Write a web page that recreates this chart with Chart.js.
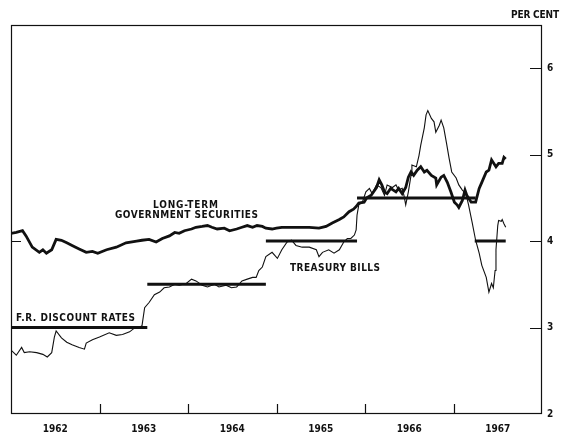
<!DOCTYPE html>
<html>
<head>
<meta charset="utf-8">
<script src="https://cdn.jsdelivr.net/npm/chart.js@4.4.1/dist/chart.umd.min.js"></script>
<style>
  html, body { margin: 0; padding: 0; background: #fff; }
  canvas { display: block; }
</style>
</head>
<body>
<canvas id="rates" width="563" height="436"></canvas>
<script>
/* Interest rates 1962-1967: long-term governments, treasury bills, F.R. discount rate. */
const yearLabels = ["1962", "1963", "1964", "1965", "1966", "1967"];
const yearMids = [1962.5, 1963.5, 1964.5, 1965.5, 1966.5, 1967.5];
const yearBounds = [1963, 1964, 1965, 1966, 1967];
const rateTicks = [2, 3, 4, 5, 6];
const leftRateTicks = [4];

const ltYears = [
  1962.00, 1962.06, 1962.13, 1962.17, 1962.24, 1962.32, 1962.36, 1962.40, 1962.46, 1962.51,
  1962.57, 1962.63, 1962.69, 1962.77, 1962.85, 1962.92, 1962.98, 1963.08, 1963.19, 1963.30,
  1963.42, 1963.48, 1963.56, 1963.64, 1963.71, 1963.79, 1963.85, 1963.90, 1963.96, 1964.04,
  1964.09, 1964.16, 1964.22, 1964.27, 1964.33, 1964.41, 1964.47, 1964.55, 1964.61, 1964.67,
  1964.73, 1964.78, 1964.84, 1964.88, 1964.95, 1965.00, 1965.06, 1965.14, 1965.26, 1965.37,
  1965.48, 1965.56, 1965.63, 1965.71, 1965.76, 1965.82, 1965.87, 1965.90, 1965.93, 1965.99,
  1966.02, 1966.07, 1966.13, 1966.16, 1966.19, 1966.22, 1966.25, 1966.29, 1966.35, 1966.38,
  1966.42, 1966.46, 1966.49, 1966.52, 1966.55, 1966.59, 1966.63, 1966.67, 1966.70, 1966.75,
  1966.80, 1966.81, 1966.86, 1966.89, 1966.93, 1966.97, 1967.01, 1967.04, 1967.06, 1967.10,
  1967.13, 1967.15, 1967.20, 1967.25, 1967.29, 1967.32, 1967.37, 1967.40, 1967.43, 1967.48,
  1967.51, 1967.55, 1967.57, 1967.59
];
const ltValues = [
  4.09, 4.10, 4.12, 4.06, 3.93, 3.87, 3.90, 3.86, 3.90, 4.02,
  4.01, 3.98, 3.95, 3.91, 3.87, 3.88, 3.86, 3.90, 3.93, 3.98,
  4.00, 4.01, 4.02, 3.99, 4.03, 4.06, 4.10, 4.09, 4.12, 4.14,
  4.16, 4.17, 4.18, 4.16, 4.14, 4.15, 4.12, 4.14, 4.16, 4.18,
  4.16, 4.18, 4.17, 4.15, 4.14, 4.15, 4.16, 4.16, 4.16, 4.16,
  4.15, 4.17, 4.21, 4.25, 4.28, 4.34, 4.37, 4.40, 4.44, 4.45,
  4.50, 4.53, 4.62, 4.71, 4.65, 4.57, 4.55, 4.61, 4.57, 4.61,
  4.55, 4.62, 4.74, 4.80, 4.76, 4.82, 4.86, 4.80, 4.82, 4.76,
  4.73, 4.65, 4.74, 4.76, 4.68, 4.57, 4.45, 4.42, 4.39, 4.47,
  4.59, 4.53, 4.45, 4.45, 4.61, 4.68, 4.80, 4.82, 4.94, 4.86,
  4.90, 4.90, 4.97, 4.95
];

const tbYears = [
  1962.00, 1962.06, 1962.12, 1962.15, 1962.21, 1962.29, 1962.36, 1962.41, 1962.46, 1962.49,
  1962.51, 1962.57, 1962.63, 1962.69, 1962.77, 1962.83, 1962.85, 1962.92, 1963.00, 1963.11,
  1963.19, 1963.26, 1963.34, 1963.39, 1963.45, 1963.48, 1963.51, 1963.56, 1963.62, 1963.68,
  1963.73, 1963.79, 1963.85, 1963.90, 1963.98, 1964.04, 1964.09, 1964.16, 1964.22, 1964.30,
  1964.35, 1964.43, 1964.49, 1964.55, 1964.61, 1964.67, 1964.73, 1964.77, 1964.80, 1964.84,
  1964.88, 1964.95, 1965.01, 1965.06, 1965.12, 1965.17, 1965.22, 1965.29, 1965.37, 1965.45,
  1965.48, 1965.52, 1965.59, 1965.65, 1965.71, 1965.76, 1965.80, 1965.84, 1965.88, 1965.90,
  1965.91, 1965.93, 1965.97, 1966.01, 1966.05, 1966.08, 1966.13, 1966.18, 1966.22, 1966.25,
  1966.31, 1966.35, 1966.38, 1966.42, 1966.44, 1966.46, 1966.49, 1966.52, 1966.53, 1966.58,
  1966.61, 1966.63, 1966.67, 1966.69, 1966.71, 1966.75, 1966.78, 1966.80, 1966.84, 1966.86,
  1966.89, 1966.92, 1966.95, 1966.98, 1967.03, 1967.06, 1967.10, 1967.14, 1967.17, 1967.21,
  1967.25, 1967.29, 1967.32, 1967.37, 1967.40, 1967.43, 1967.45, 1967.47, 1967.48, 1967.50,
  1967.51, 1967.54, 1967.55, 1967.57, 1967.59
];
const tbValues = [
  2.74, 2.68, 2.77, 2.71, 2.72, 2.71, 2.69, 2.66, 2.71, 2.89,
  2.96, 2.88, 2.83, 2.80, 2.77, 2.75, 2.82, 2.86, 2.89, 2.94,
  2.91, 2.92, 2.95, 2.99, 3.00, 3.02, 3.23, 3.29, 3.38, 3.41,
  3.46, 3.47, 3.50, 3.49, 3.51, 3.56, 3.54, 3.49, 3.47, 3.50,
  3.47, 3.49, 3.46, 3.47, 3.54, 3.56, 3.58, 3.58, 3.66, 3.70,
  3.82, 3.87, 3.80, 3.90, 3.99, 4.01, 3.95, 3.93, 3.93, 3.90,
  3.82, 3.87, 3.90, 3.86, 3.90, 3.99, 4.03, 4.03, 4.07, 4.13,
  4.30, 4.42, 4.45, 4.57, 4.61, 4.55, 4.65, 4.62, 4.53, 4.65,
  4.62, 4.65, 4.59, 4.61, 4.53, 4.42, 4.57, 4.76, 4.88, 4.86,
  4.99, 5.11, 5.31, 5.46, 5.51, 5.42, 5.38, 5.26, 5.34, 5.40,
  5.31, 5.14, 4.96, 4.80, 4.73, 4.65, 4.59, 4.55, 4.42, 4.22,
  4.01, 3.86, 3.72, 3.58, 3.41, 3.51, 3.46, 3.66, 3.90, 4.18,
  4.24, 4.23, 4.25, 4.20, 4.16
];

const discountFrom = [1962.00, 1963.54, 1964.88, 1965.91, 1967.24];
const discountTo = [1963.54, 1964.88, 1965.91, 1967.25, 1967.59];
const discountRate = [3.0, 3.5, 4.0, 4.5, 4.0];

const INK = "#111";
const FONT_FAMILY = "'DejaVu Sans Condensed', 'DejaVu Sans', sans-serif";

function toPoints(xs, ys) {
  return xs.map((x, i) => ({ x, y: ys[i] }));
}

function discountPoints() {
  const pts = [];
  discountRate.forEach((r, i) => {
    pts.push({ x: discountFrom[i], y: r });
    pts.push({ x: discountTo[i], y: r });
    pts.push({ x: discountTo[i], y: null });
  });
  return pts;
}

function spacedText(ctx, text, x, y, width) {
  ctx.letterSpacing = "0px";
  const natural = ctx.measureText(text).width;
  const gap = (width - natural) / Math.max(1, text.length - 1);
  ctx.letterSpacing = gap.toFixed(2) + "px";
  ctx.fillText(text, x, y);
  ctx.letterSpacing = "0px";
}

const framePlugin = {
  id: "frame",
  afterDraw(chart) {
    const { ctx, chartArea: a, scales } = chart;
    ctx.save();
    ctx.strokeStyle = INK;
    ctx.lineWidth = 1.2;
    ctx.strokeRect(a.left + 0.5, a.top + 0.5, a.right - a.left - 1, a.bottom - a.top - 1);

    ctx.beginPath();
    yearBounds.forEach((v) => {
      const px = Math.round(scales.x.getPixelForValue(v)) + 0.5;
      ctx.moveTo(px, a.bottom);
      ctx.lineTo(px, a.bottom - 10);
    });
    rateTicks.slice(1).forEach((v) => {
      const py = Math.round(scales.y.getPixelForValue(v)) + 0.5;
      ctx.moveTo(a.right, py);
      ctx.lineTo(a.right - 12, py);
    });
    leftRateTicks.forEach((v) => {
      const py = Math.round(scales.y.getPixelForValue(v)) + 0.5;
      ctx.moveTo(a.left, py);
      ctx.lineTo(a.left + 10, py);
    });
    ctx.stroke();

    ctx.fillStyle = INK;
    ctx.font = "bold 10px " + FONT_FAMILY;
    ctx.textBaseline = "middle";
    ctx.textAlign = "left";
    spacedText(ctx, "LONG-TERM", 153, 205, 65);
    spacedText(ctx, "GOVERNMENT SECURITIES", 115, 215, 143);
    spacedText(ctx, "F.R. DISCOUNT RATES", 16, 318, 119);
    spacedText(ctx, "TREASURY BILLS", 290, 268, 90);
    spacedText(ctx, "PER CENT", 511, 15, 48);
    ctx.restore();
  },
};

new Chart(document.getElementById("rates"), {
  type: "line",
  data: {
    datasets: [
      {
        label: "Long-term government securities",
        data: toPoints(ltYears, ltValues),
        borderColor: INK,
        borderWidth: 2.8,
        pointRadius: 0,
        tension: 0,
      },
      {
        label: "Treasury bills",
        data: toPoints(tbYears, tbValues),
        borderColor: INK,
        borderWidth: 1.1,
        pointRadius: 0,
        tension: 0,
      },
      {
        label: "F.R. discount rates",
        data: discountPoints(),
        borderColor: INK,
        borderWidth: 3,
        borderCapStyle: "butt",
        pointRadius: 0,
        spanGaps: false,
      },
    ],
  },
  options: {
    responsive: false,
    devicePixelRatio: 1,
    animation: false,
    layout: { padding: { left: 11, top: 25, right: 0, bottom: 0 } },
    plugins: { legend: { display: false }, tooltip: { enabled: false } },
    scales: {
      x: {
        type: "linear",
        min: 1962,
        max: 1968,
        grid: { display: false, drawTicks: false },
        border: { display: false },
        afterBuildTicks: (s) => { s.ticks = yearMids.map((v) => ({ value: v })); },
        afterFit: (s) => { s.height = 22; },
        ticks: {
          autoSkip: false,
          maxRotation: 0,
          padding: 9,
          color: INK,
          font: { family: FONT_FAMILY, size: 10, weight: "bold" },
          callback: (v, i) => yearLabels[i],
        },
      },
      y: {
        type: "linear",
        position: "right",
        min: 2,
        max: 6.5,
        grid: { display: false, drawTicks: false },
        border: { display: false },
        afterBuildTicks: (s) => { s.ticks = rateTicks.map((v) => ({ value: v })); },
        afterFit: (s) => { s.width = 21; },
        ticks: {
          padding: 5,
          color: INK,
          font: { family: FONT_FAMILY, size: 10, weight: "bold" },
          callback: (v) => String(v),
        },
      },
    },
  },
  plugins: [framePlugin],
});
</script>
</body>
</html>
